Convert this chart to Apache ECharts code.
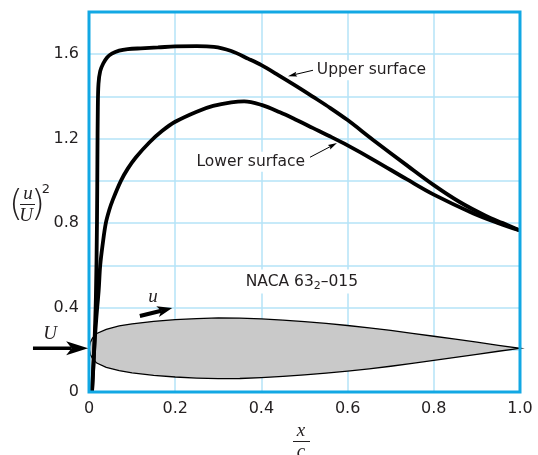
<!DOCTYPE html>
<html><head><meta charset="utf-8">
<script src="https://cdn.jsdelivr.net/npm/echarts@6/dist/echarts.min.js"></script>
<style>html,body{margin:0;padding:0;background:#fff}#c{width:538px;height:455px}</style>
</head><body><div id="c"></div>
<script>
// ---- data ----
const upperX = [0.007, 0.012, 0.016, 0.0185, 0.0195, 0.0205, 0.022, 0.026, 0.033, 0.042, 0.053, 0.07, 0.09, 0.12, 0.16, 0.20, 0.25, 0.29, 0.33, 0.37, 0.40, 0.44, 0.48, 0.52, 0.56, 0.60, 0.66, 0.74, 0.80, 0.86, 0.92, 0.96, 1.00];
const upperY = [0, 0.2, 0.45, 0.8, 1.1, 1.35, 1.46, 1.52, 1.556, 1.585, 1.603, 1.617, 1.624, 1.628, 1.632, 1.637, 1.638, 1.635, 1.615, 1.578, 1.548, 1.50, 1.45, 1.398, 1.345, 1.288, 1.193, 1.07, 0.98, 0.90, 0.835, 0.80, 0.765];
const lowerX = [0.007, 0.012, 0.017, 0.0225, 0.026, 0.032, 0.039, 0.047, 0.055, 0.074, 0.09, 0.109, 0.14, 0.17, 0.20, 0.25, 0.288, 0.33, 0.36, 0.40, 0.443, 0.48, 0.52, 0.56, 0.60, 0.66, 0.737, 0.80, 0.892, 0.95, 1.00];
const lowerY = [0, 0.2, 0.35, 0.483, 0.6, 0.704, 0.8, 0.862, 0.909, 1.0, 1.058, 1.112, 1.182, 1.237, 1.28, 1.328, 1.355, 1.372, 1.377, 1.36, 1.325, 1.29, 1.25, 1.21, 1.168, 1.10, 1.008, 0.935, 0.846, 0.80, 0.765];
const airfoilX = [0, 0.003, 0.008, 0.018, 0.04, 0.07, 0.10, 0.15, 0.20, 0.25, 0.30, 0.35, 0.40, 0.45, 0.50, 0.55, 0.60, 0.65, 0.70, 0.75, 0.80, 0.85, 0.90, 0.95, 1.00];
const airfoilHalf = [0, 0.028, 0.048, 0.07, 0.09, 0.106, 0.116, 0.128, 0.136, 0.141, 0.144, 0.143, 0.139, 0.133, 0.126, 0.118, 0.108, 0.097, 0.085, 0.071, 0.057, 0.043, 0.029, 0.014, 0];
const airfoilChordY = 0.207;
const xTicks = [0, 0.2, 0.4, 0.6, 0.8, 1.0];
const yTicks = [0, 0.4, 0.8, 1.2, 1.6];

const toPairs = (xs, ys) => xs.map((x, i) => [x, ys[i]]);
const fmt = v => (v === 0 ? '0' : v.toFixed(1));
const near = (v, arr) => arr.some(t => Math.abs(t - v) < 1e-6);
const TXT = '#231f20';
const CYAN = '#12a8e4';

const chart = echarts.init(document.getElementById('c'));
const option = {
  animation: false,
  backgroundColor: '#fff',
  grid: { left: 89, right: 18, top: 12, bottom: 63, show: false },
  xAxis: {
    type: 'value', min: 0, max: 1, interval: 0.2,
    axisLine: { show: false }, axisTick: { show: false },
    splitLine: { show: true, lineStyle: { color: '#b4e3f7', width: 1.5 } },
    axisLabel: { color: TXT, fontSize: 16, fontFamily: 'DejaVu Sans', margin: 9,
      formatter: v => near(v, xTicks) ? fmt(v) : '' }
  },
  yAxis: {
    type: 'value', min: 0, max: 1.8, interval: 0.2,
    axisLine: { show: false }, axisTick: { show: false },
    splitLine: { show: true, lineStyle: { color: '#b4e3f7', width: 1.5 } },
    axisLabel: { color: TXT, fontSize: 16, fontFamily: 'DejaVu Sans', margin: 10,
      formatter: v => near(v, yTicks) ? fmt(v) : '' }
  },
  series: [
    {
      type: 'custom', z: 1,
      data: airfoilX.map((x, i) => [x, airfoilChordY + airfoilHalf[i]]),
      renderItem: (params, api) => {
        if (params.dataIndex !== 0) return null;
        const pts = [];
        for (let i = 0; i < airfoilX.length; i++) pts.push(api.coord([airfoilX[i], airfoilChordY + airfoilHalf[i]]));
        for (let i = airfoilX.length - 2; i > 0; i--) pts.push(api.coord([airfoilX[i], airfoilChordY - airfoilHalf[i]]));
        return { type: 'polygon', shape: { points: pts, smooth: 0 },
          style: { fill: '#c9c9c9', stroke: '#000', lineWidth: 1.3 } };
      }
    },
    { type: 'line', z: 5, data: toPairs(upperX, upperY), showSymbol: false, smooth: 0.35,
      lineStyle: { color: '#000', width: 3.8 } },
    { type: 'line', z: 5, data: toPairs(lowerX, lowerY), showSymbol: false, smooth: 0.35,
      lineStyle: { color: '#000', width: 3.8 } }
  ]
};
chart.setOption(option);

const P = (x, y) => chart.convertToPixel({ gridIndex: 0 }, [x, y]);
function arrow(a, b, w, headL, headW, notch) {
  const p1 = P(a[0], a[1]), p2 = P(b[0], b[1]);
  const dx = p2[0] - p1[0], dy = p2[1] - p1[1], L = Math.hypot(dx, dy);
  const ux = dx / L, uy = dy / L, nx = -uy, ny = ux;
  const bx = p2[0] - ux * headL, by = p2[1] - uy * headL;
  const nxp = bx + ux * headL * notch, nyp = by + uy * headL * notch;
  return [
    { type: 'line', z: 100, shape: { x1: p1[0], y1: p1[1], x2: nxp, y2: nyp }, style: { stroke: '#000', lineWidth: w } },
    { type: 'polygon', z: 100, shape: { points: [[p2[0], p2[1]], [bx + nx * headW / 2, by + ny * headW / 2], [nxp, nyp], [bx - nx * headW / 2, by - ny * headW / 2]] }, style: { fill: '#000' } }
  ];
}
function text(pos, str, font, align, extra) {
  const p = P(pos[0], pos[1]);
  return Object.assign({ type: 'text', z: 100, x: p[0], y: p[1],
    style: Object.assign({ text: str, font: font, fill: TXT, align: align, verticalAlign: 'middle',
      textAlign: align, textVerticalAlign: 'middle' }, extra || {}) });
}
const g0 = P(0, 0), g1 = P(1, 1.8);
const SANS = '15.5px "DejaVu Sans"';
const SERIF_I = 'italic 19px "Liberation Serif"';
const graphics = [].concat(
  [{ type: 'rect', z: 90, shape: { x: g0[0], y: g1[1], width: g1[0] - g0[0], height: g0[1] - g1[1] },
     style: { fill: 'none', stroke: CYAN, lineWidth: 3 } }],
  arrow([-0.130, 0.207], [-0.002, 0.207], 3.5, 22, 14, 0.25),
  arrow([0.118, 0.360], [0.193, 0.398], 4, 15, 11, 0.25),
  arrow([0.5197, 1.524], [0.4617, 1.496], 1, 9, 5, 0.15),
  arrow([0.5128, 1.112], [0.5754, 1.179], 1, 9, 5, 0.15),
  [
    text([0.524, 1.524], 'Upper surface', SANS, 'left', { backgroundColor: '#fff', padding: [2, 2] }),
    text([0.506, 1.091], 'Lower surface', SANS, 'right', { backgroundColor: '#fff', padding: [2, 2] }),
    text([0.494, 0.523], 'NACA 63{s|2}–015', SANS, 'center', { backgroundColor: '#fff', padding: [2, 3],
      rich: { s: { font: '11px "DejaVu Sans"', fill: TXT, padding: [9, 0, 0, 0] } } }),
    text([-0.0905, 0.274], 'U', SERIF_I, 'center'),
    text([0.1485, 0.450], 'u', SERIF_I, 'center'),
    // y-axis title (u/U)^2
    { type: 'text', z: 100, x: 16, y: 206, style: { text: '(', font: '300 36px "DejaVu Sans"', fill: TXT, align: 'center', verticalAlign: 'middle', textAlign: 'center', textVerticalAlign: 'middle' } },
    { type: 'text', z: 100, x: 38, y: 206, style: { text: ')', font: '300 36px "DejaVu Sans"', fill: TXT, align: 'center', verticalAlign: 'middle', textAlign: 'center', textVerticalAlign: 'middle' } },
    { type: 'text', z: 100, x: 28, y: 194, style: { text: 'u', font: SERIF_I, fill: TXT, align: 'center', verticalAlign: 'middle', textAlign: 'center', textVerticalAlign: 'middle' } },
    { type: 'line', z: 100, shape: { x1: 20, y1: 204.5, x2: 35, y2: 204.5 }, style: { stroke: TXT, lineWidth: 1 } },
    { type: 'text', z: 100, x: 26, y: 216, style: { text: 'U', font: SERIF_I, fill: TXT, align: 'center', verticalAlign: 'middle', textAlign: 'center', textVerticalAlign: 'middle' } },
    { type: 'text', z: 100, x: 46, y: 190, style: { text: '2', font: '13px "DejaVu Sans"', fill: TXT, align: 'center', verticalAlign: 'middle', textAlign: 'center', textVerticalAlign: 'middle' } },
    // x-axis title x/c
    { type: 'text', z: 100, x: 301, y: 431, style: { text: 'x', font: SERIF_I, fill: TXT, align: 'center', verticalAlign: 'middle', textAlign: 'center', textVerticalAlign: 'middle' } },
    { type: 'line', z: 100, shape: { x1: 293, y1: 441.5, x2: 310, y2: 441.5 }, style: { stroke: TXT, lineWidth: 1 } },
    { type: 'text', z: 100, x: 301, y: 452, style: { text: 'c', font: SERIF_I, fill: TXT, align: 'center', verticalAlign: 'middle', textAlign: 'center', textVerticalAlign: 'middle' } }
  ]
);
chart.setOption({ graphic: { elements: graphics } });
</script>
</body></html>
